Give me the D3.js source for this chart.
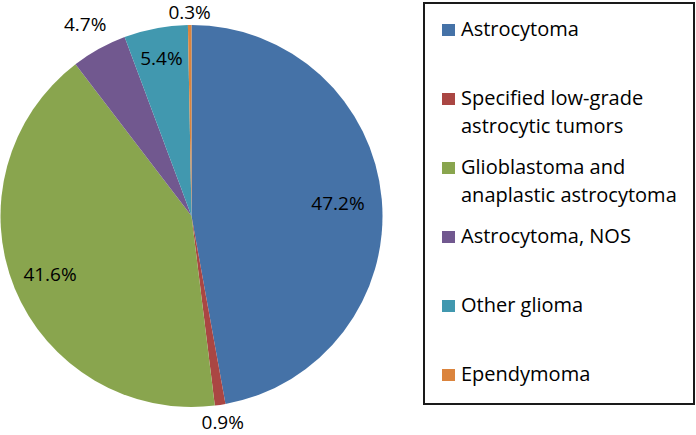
<!DOCTYPE html>
<html>
<head>
<meta charset="utf-8">
<script src="https://cdn.jsdelivr.net/npm/d3@7"></script>
<style>
  body { margin: 0; background: #fff; }
  svg { display: block; font-family: "Open Sans", sans-serif; }
</style>
</head>
<body>
<svg width="696" height="435"></svg>
<script>
// slice data, clockwise from 12 o'clock
var categories = ["Astrocytoma", "Specified low-grade astrocytic tumors", "Glioblastoma and anaplastic astrocytoma", "Astrocytoma, NOS", "Other glioma", "Ependymoma"];
var legendLines = [["Astrocytoma"], ["Specified low-grade", "astrocytic tumors"], ["Glioblastoma and", "anaplastic astrocytoma"], ["Astrocytoma, NOS"], ["Other glioma"], ["Ependymoma"]];
var values = [47.2, 0.9, 41.6, 4.7, 5.4, 0.3];
var labels = ["47.2%", "0.9%", "41.6%", "4.7%", "5.4%", "0.3%"];
var colors = ["#4572A7", "#AA4643", "#89A54E", "#71588F", "#4198AF", "#DB843D"];

// label distance from centre, as a fraction of the radius (hand placed like the original)
var labelRadius = [0.77, 1.09, 0.8, 1.15, 0.84, 1.065];

var svg = d3.select("svg");
var cx = 191.5, cy = 216, radius = 191;

var color = d3.scaleOrdinal().domain(categories).range(colors);

var pie = d3.pie().sort(null).value(function(d) { return d.value; });
var arc = d3.arc().innerRadius(0).outerRadius(radius);

var data = categories.map(function(c, i) {
  return { name: c, value: values[i], label: labels[i], lines: legendLines[i] };
});
var arcs = pie(data);

var g = svg.append("g").attr("transform", "translate(" + cx + "," + cy + ")");

g.selectAll("path.slice")
  .data(arcs)
  .enter()
  .append("path")
    .attr("class", "slice")
    .attr("d", arc)
    .attr("fill", function(d) { return color(d.data.name); });

arcs.forEach(function(d, i) {
  var r = radius * labelRadius[i];
  var a = (d.startAngle + d.endAngle) / 2;
  g.append("text")
    .attr("class", "lbl")
    .attr("x", r * Math.sin(a))
    .attr("y", -r * Math.cos(a))
    .attr("text-anchor", "middle")
    .attr("dy", "0.36em")
    .attr("font-size", 19)
    .attr("fill", "#000")
    .text(d.data.label);
});

// legend box
svg.append("rect")
  .attr("x", 424)
  .attr("y", 3)
  .attr("width", 270)
  .attr("height", 401)
  .attr("fill", "none")
  .attr("stroke", "#1a1a1a")
  .attr("stroke-width", 2);

var legendY = d3.scalePoint().domain(categories).range([36, 381]);

var item = svg.selectAll("g.legend")
  .data(data)
  .enter()
  .append("g")
    .attr("class", "legend")
    .attr("transform", function(d) { return "translate(442," + legendY(d.name) + ")"; });

item.append("rect")
  .attr("x", 0)
  .attr("y", -12)
  .attr("width", 13)
  .attr("height", 12)
  .attr("fill", function(d) { return color(d.name); });

item.append("text")
  .attr("font-size", 20)
  .attr("fill", "#000")
  .selectAll("tspan")
  .data(function(d) { return d.lines; })
  .enter()
  .append("tspan")
    .attr("x", 19)
    .attr("y", function(d, i) { return i * 27.5; })
    .text(function(d) { return d; });
</script>
</body>
</html>
